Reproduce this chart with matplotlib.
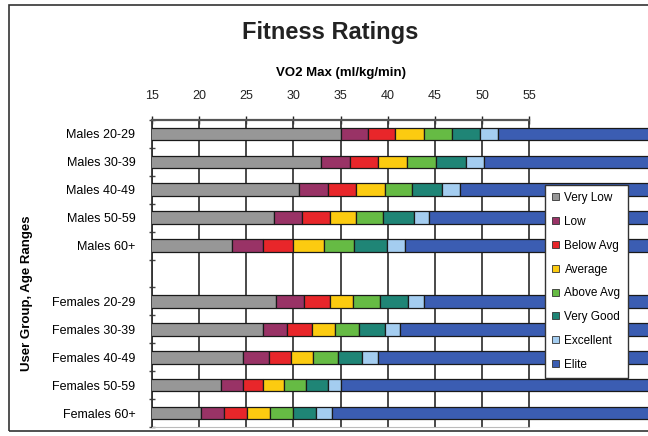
import numpy as np
import matplotlib
matplotlib.use('Agg')
import matplotlib.pyplot as plt
from matplotlib.patches import Patch, Rectangle

plt.rcParams['font.family'] = ['Liberation Sans', 'DejaVu Sans']

# grupos (linha vazia separa homens e mulheres)
grupos = ['Males 20-29', 'Males 30-39', 'Males 40-49', 'Males 50-59', 'Males 60+', '',
          'Females 20-29', 'Females 30-39', 'Females 40-49', 'Females 50-59', 'Females 60+']

# limite superior de cada faixa (VO2 max)
very_low = [35.0, 32.9, 30.6, 27.9, 23.5, np.nan, 28.2, 26.8, 24.6, 22.3, 20.2]
low = [37.9, 36.0, 33.7, 30.9, 26.8, np.nan, 31.1, 29.3, 27.4, 24.7, 22.6]
below_avg = [40.8, 39.0, 36.6, 33.9, 30.0, np.nan, 33.9, 32.0, 29.7, 26.8, 25.1]
average = [43.8, 42.0, 39.7, 36.6, 33.2, np.nan, 36.3, 34.4, 32.1, 29.0, 27.5]
above_avg = [46.8, 45.1, 42.6, 39.5, 36.4, np.nan, 39.2, 36.9, 34.7, 31.3, 30.0]
very_good = [49.8, 48.3, 45.8, 42.8, 39.9, np.nan, 42.2, 39.7, 37.3, 33.7, 32.4]
excellent = [51.7, 50.2, 47.7, 44.4, 41.8, np.nan, 43.8, 41.3, 39.0, 35.0, 34.1]
elite = [80, 80, 80, 80, 80, np.nan, 80, 80, 80, 80, 80]

faixas = ['Very Low', 'Low', 'Below Avg', 'Average', 'Above Avg', 'Very Good', 'Excellent', 'Elite']
cores = ['#979797', '#993366', '#e8262a', '#fccb10', '#66bb44', '#1f8576', '#a4cdf0', '#3b5db2']

ticks_x = [15, 20, 25, 30, 35, 40, 45, 50, 55]

fig = plt.figure(figsize=(6.48, 4.36), dpi=100)
fig.patch.set_facecolor('white')
# moldura do grafico (estilo excel)
fig.patches.append(Rectangle((9 / 648, 1 - 431 / 436), 1.0, 426 / 436, transform=fig.transFigure,
                             fill=False, edgecolor='#333333', linewidth=1.2))

ax = fig.add_axes([152 / 648, 1 - 427 / 436, 1 - 152 / 648, 307 / 436])

y = np.arange(len(grupos))
limites = [very_low, low, below_avg, average, above_avg, very_good, excellent, elite]
esquerda = np.zeros(len(grupos))
for lim, cor in zip(limites, cores):
    lim = np.array(lim, dtype=float)
    ok = ~np.isnan(lim)
    ax.barh(y[ok], lim[ok] - esquerda[ok], left=esquerda[ok], height=0.45,
            color=cor, edgecolor='#1a1a1a', linewidth=0.9, zorder=3)
    esquerda = np.where(ok, lim, esquerda)

# grade vertical so ate 55
for t in ticks_x:
    ax.axvline(t, color='#3a3a3a', linewidth=1.3, zorder=2)

ax.set_xlim(15, 67.6)
ax.set_ylim(len(grupos) - 0.5, -0.5)

ax.xaxis.tick_top()
ax.xaxis.set_label_position('top')
ax.set_xticks(ticks_x)
ax.tick_params(axis='x', direction='inout', length=6, width=1, pad=10, labelsize=9, colors='#222222')
ax.set_xlabel('VO2 Max (ml/kg/min)', fontsize=9.5, fontweight='bold')
ax.xaxis.set_label_coords((341 - 152) / 496, (427 - 76) / 307)

ax.set_yticks(y)
ax.set_yticklabels(grupos, fontsize=9)
ax.tick_params(axis='y', length=0, pad=12)
ax.set_yticks(np.arange(len(grupos) + 1) - 0.5, minor=True)
ax.tick_params(axis='y', which='minor', direction='inout', length=5, width=1, color='#444444')
ax.set_ylabel('User Group, Age Ranges', fontsize=9.5, fontweight='bold')
ax.yaxis.set_label_coords(-(152 - 33) / 496, 1 - (293 - 120) / 307)

ax.spines['right'].set_visible(False)
ax.spines['top'].set_bounds(15, 55)
ax.spines['top'].set_color('#555555')
ax.spines['top'].set_linewidth(1.6)
ax.spines['bottom'].set_bounds(15, 55)
ax.spines['bottom'].set_color('#bbbbbb')
ax.spines['left'].set_color('#333333')
ax.spines['left'].set_linewidth(1.3)

fig.text(330 / 648, 1 - 33 / 436, 'Fitness Ratings', ha='center', va='center',
         fontsize=17, fontweight='bold', color='#222222')

handles = [Patch(facecolor=c, edgecolor='#333333', linewidth=0.6) for c in cores]
leg = fig.legend(handles, faixas, loc='upper left', bbox_to_anchor=(545 / 648, 1 - 185 / 436),
                 fontsize=8.5, handlelength=0.55, handleheight=0.55, handletextpad=0.5,
                 labelspacing=1.0, borderpad=0.6, borderaxespad=0, fancybox=False, framealpha=1,
                 edgecolor='#333333')
leg.get_frame().set_linewidth(1.0)
leg.set_zorder(10)

fig.savefig('out.png', dpi=100)
